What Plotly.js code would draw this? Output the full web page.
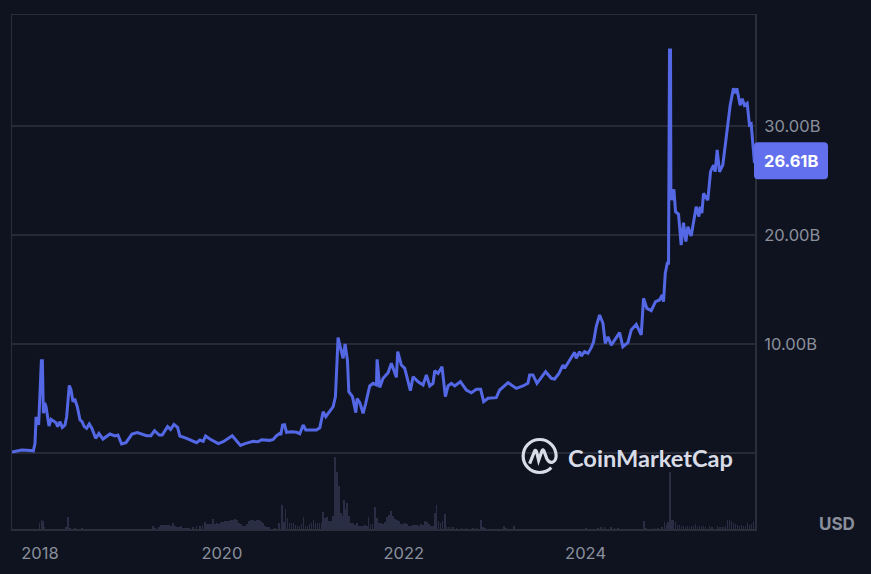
<!DOCTYPE html>
<html><head><meta charset="utf-8">
<script src="https://cdn.plot.ly/plotly-3.0.1.min.js"></script>
<style>html,body{margin:0;padding:0;background:#0e131f;overflow:hidden}#c{width:871px;height:574px}</style>
</head><body><div id="c"></div>
<script>
const capYears = [
2017.692,2017.744,2017.799,2017.854,2017.927,2017.945,2017.956,2017.971,2017.985,2018.015,2018.026,2018.037,2018.051,2018.066,2018.081,2018.099,2018.121,2018.147,2018.176,2018.194,2018.220,2018.245,2018.275,2018.293,2018.322,2018.341,2018.363,2018.381,2018.410,2018.440,2018.462,2018.487,2018.513,2018.542,2018.571,2018.612,2018.648,2018.692,2018.769,2018.824,2018.857,2018.897,2018.945,2019.011,2019.070,2019.172,2019.220,2019.260,2019.311,2019.344,2019.403,2019.436,2019.473,2019.513,2019.538,2019.612,2019.667,2019.722,2019.758,2019.795,2019.821,2019.868,2019.960,2020.015,2020.114,2020.205,2020.253,2020.308,2020.345,2020.399,2020.436,2020.527,2020.564,2020.601,
2020.637,2020.648,2020.667,2020.689,2020.711,2020.766,2020.821,2020.857,2020.894,2020.923,2020.985,2021.040,2021.077,2021.114,2021.143,2021.187,2021.224,2021.249,2021.278,2021.297,2021.333,2021.355,2021.381,2021.396,2021.436,2021.473,2021.487,2021.517,2021.553,2021.582,2021.626,2021.663,2021.700,2021.707,2021.736,2021.773,2021.828,2021.864,2021.919,2021.934,2021.974,2022.011,2022.037,2022.073,2022.103,2022.158,2022.213,2022.249,2022.286,2022.322,2022.341,2022.377,2022.421,2022.458,2022.487,2022.524,2022.561,2022.623,2022.689,2022.744,2022.799,2022.846,2022.879,2022.927,2023.018,2023.055,2023.147,2023.202,2023.238,2023.311,2023.366,2023.385,2023.421,2023.465,2023.513,2023.560,2023.623,2023.659,2023.707,2023.751,2023.769,2023.824,2023.879,2023.897,2023.934,
2023.953,2023.989,2024.026,2024.062,2024.088,2024.117,2024.154,2024.191,2024.216,2024.246,2024.282,2024.319,2024.374,2024.410,2024.465,2024.502,2024.557,2024.612,
2024.637,2024.674,2024.722,2024.769,2024.813,2024.843,2024.857,2024.876,2024.898,2024.912,2024.923,2024.934,2024.938,2024.949,2024.971,2024.989,2025.022,2025.051,2025.077,2025.103,2025.125,2025.161,2025.216,2025.246,2025.260,2025.279,2025.297,2025.344,2025.374,2025.407,2025.425,2025.447,2025.473,2025.509,2025.553,2025.590,2025.626,2025.648,2025.663,2025.700,2025.722,2025.747,2025.777,2025.802,2025.821,2025.857];
const capBillions = [
0.09,0.2,0.27,0.25,0.2,0.89,3.18,3.18,2.57,8.47,8.47,3.64,4.6,4.25,3.33,2.48,3.09,2.97,2.78,2.42,2.87,2.35,2.57,3.33,6.2,5.78,4.7,4.98,4.25,3.03,2.87,2.42,2.26,2.66,2.26,1.35,1.8,1.28,1.74,1.56,1.65,0.83,0.95,1.74,1.87,1.59,1.59,2.05,1.65,1.65,2.42,2.17,2.63,2.35,1.56,1.35,1.13,0.95,1.19,1.07,1.56,1.28,0.86,1.04,1.59,0.7,0.86,0.95,1.07,1.04,1.22,1.16,1.25,1.59,
1.8,1.65,2.57,2.6,1.9,1.96,1.9,1.77,2.57,2.11,2.11,2.11,2.32,3.79,3.33,3.79,4.25,5.17,10.6,9.9,8.68,10.0,8.5,5.63,5.17,3.7,5.0,4.62,3.64,4.56,6.15,6.39,6.24,8.6,6.02,6.85,7.37,8.23,6.94,9.3,8.07,7.77,6.85,5.72,7.0,6.54,6.24,7.16,6.15,6.39,7.55,7.3,7.92,5.17,6.15,6.39,6.15,6.54,5.78,5.53,5.84,5.84,4.71,5.02,5.08,5.78,6.45,6.15,5.93,6.15,6.39,7.16,7.16,6.39,6.94,7.46,6.85,6.79,7.3,8.07,7.77,8.53,9.24,8.68,9.3,
8.9,9.3,9.14,9.66,10.2,11.6,12.66,11.9,10.06,10.67,9.9,10.37,11.04,9.75,10.12,11.28,11.8,10.83,
14.19,13.27,13.06,13.88,14.04,14.5,13.88,16.48,17.4,17.4,36.97,36.97,23.82,23.2,24.19,22.14,21.9,19.08,21.13,19.39,20.76,19.9,22.6,21.68,22.6,22.0,23.82,23.2,25.8,26.42,25.8,27.8,25.8,26.42,29.3,31.9,33.45,33.0,33.45,31.9,32.5,31.9,32.08,30.1,30.2,26.61];

const volumeYears = [
2017.993,2018.015,2018.029,2018.048,2018.286,2018.304,2018.330,2018.385,2018.458,2019.245,2019.264,2019.311,2019.333,2019.355,2019.377,2019.399,2019.421,2019.443,2019.465,2019.487,2019.509,2019.531,2019.553,2019.575,2019.597,2019.619,2019.641,2019.685,2019.722,2019.758,2019.788,2019.817,2019.839,2019.861,2019.883,2019.905,2019.927,2019.949,2019.971,2019.993,2020.015,2020.037,2020.059,2020.081,2020.103,2020.125,2020.147,2020.169,2020.191,2020.213,2020.235,2020.257,2020.279,2020.301,2020.323,2020.345,2020.366,2020.388,2020.410,2020.432,2020.454,2020.476,2020.498,2020.520,2020.582,2020.630,
2020.663,2020.681,2020.700,2020.722,2020.744,2020.766,2020.788,2020.810,2020.832,2020.854,2020.876,2020.898,2020.919,2020.941,2020.963,2020.985,2021.007,2021.029,2021.051,2021.073,2021.095,2021.110,2021.132,2021.154,2021.176,2021.198,2021.220,2021.242,2021.264,2021.286,2021.308,2021.322,2021.341,2021.355,2021.377,2021.399,2021.421,2021.443,2021.465,2021.487,2021.509,2021.531,2021.553,2021.575,2021.597,2021.612,2021.634,2021.656,2021.681,2021.703,2021.725,2021.747,2021.769,2021.791,2021.813,2021.835,2021.857,2021.879,2021.901,2021.923,2021.945,2021.967,2021.989,2022.011,2022.033,2022.055,2022.077,2022.099,2022.121,2022.143,2022.165,2022.187,2022.209,2022.231,2022.253,2022.275,2022.297,2022.319,2022.341,2022.359,2022.381,2022.403,2022.425,2022.451,2022.469,2022.491,2022.513,2022.542,2022.579,2022.634,2022.689,2022.762,2022.799,2022.853,2022.872,2022.890,2023.099,2023.128,2023.213,
2024.007,2024.136,2024.172,2024.209,2024.282,2024.319,2024.355,2024.641,2024.667,2024.758,2024.795,2024.839,2024.868,2024.890,2024.909,2024.931,2024.949,2024.967,2024.989,2025.011,2025.033,2025.055,2025.077,2025.099,2025.121,2025.143,2025.165,2025.187,2025.209,2025.231,2025.253,2025.275,2025.297,2025.319,2025.363,2025.392,2025.451,2025.480,2025.509,2025.539,2025.561,2025.583,2025.605,2025.627,2025.649,2025.671,2025.693,2025.715,2025.737,2025.759,2025.781,2025.803,2025.825,2025.847];
const volumeUnits = [
6,9,8,2,2,12,1,1,1,3,1,2,4,4,4,4,4,3,6,3,2,2,3,1,1,1,1,2,3,3,4,7,5,5,5,10,5,6,5,7,7,8,8,8,9,9,10,9,6,5,3,3,5,8,9,9,8,9,9,8,6,3,2,2,1,6,
24,7,20,11,6,6,6,4,3,3,5,12,3,3,5,6,9,6,6,6,6,17,11,12,8,8,13,72,57,43,16,13,29,20,26,13,6,6,4,6,3,3,3,4,3,12,5,5,22,11,6,6,5,7,12,14,18,13,10,9,8,5,5,6,5,3,3,4,4,4,3,5,4,8,7,5,3,3,16,24,8,6,8,15,2,2,2,2,1,1,1,1,1,9,2,1,3,1,3,
1,1,2,2,2,1,1,8,1,1,1,2,7,4,7,57,9,9,7,4,4,3,3,2,3,2,3,3,5,2,3,3,3,2,3,2,3,2,2,3,9,9,8,6,5,4,3,4,3,3,6,4,5,7];

const capTickValues = [0,10,20,30];
const capTickLabels = ['','10.00B','20.00B','30.00B'];
const yearTickValues = [2018,2020,2022,2024];
const yearTickLabels = ['2018','2020','2022','2024'];
const latestLabel = '26.61B';

const traces = [
 {type:'bar',x:volumeYears,y:volumeUnits,yaxis:'y',xaxis:'x',width:0.019,
  marker:{color:'#2a2e44',line:{width:0}},hoverinfo:'skip',showlegend:false},
 {type:'scatter',mode:'lines',x:capYears,y:capBillions,yaxis:'y2',xaxis:'x',
  line:{color:'#5468e6',width:3,shape:'linear'},hoverinfo:'skip',showlegend:false}
];
const border='#2a2e3a';
const logoColor='#d9dce6';
const logoAnchor={xanchor:(540-12)/743.5,yanchor:(529-456)/514,xref:'paper',yref:'paper',xsizemode:'pixel',ysizemode:'pixel'};
const layout={
 width:871,height:574,paper_bgcolor:'#0e131f',plot_bgcolor:'#0e131f',
 margin:{l:12,r:116,t:15,b:45,pad:0},showlegend:false,bargap:0,
 font:{family:'Inter, sans-serif',color:'#8b8f9c',size:16},
 xaxis:{type:'linear',range:[2017.692,2025.863],tickmode:'array',tickvals:yearTickValues,ticktext:yearTickLabels,
   showgrid:false,zeroline:false,showline:true,linecolor:border,linewidth:1.5,mirror:true,
   ticks:'outside',ticklen:9,tickcolor:'rgba(0,0,0,0)',tickfont:{family:'Inter',size:16.5,color:'#8b8f9c'}},
 yaxis:{range:[0,514],showgrid:false,zeroline:false,showticklabels:false,ticks:'',showline:true,linecolor:border,linewidth:1.5,mirror:true},
 yaxis2:{overlaying:'y',side:'right',range:[-6.97,40.18],tickmode:'array',tickvals:capTickValues,ticktext:capTickLabels,
   showgrid:true,gridcolor:'#262a36',gridwidth:1.2,zeroline:false,showline:false,
   ticks:'outside',ticklen:5,tickcolor:'rgba(0,0,0,0)',tickfont:{family:'Inter',size:16.5,color:'#8b8f9c'}},
 shapes:[
  {type:'path',xref:'paper',yref:'paper',xsizemode:'pixel',ysizemode:'pixel',xanchor:1,yanchor:(529-160.7)/514,layer:'above',
   fillcolor:'#6270ee',line:{width:0},
   path:'M -1 -14.5 L -1 14.5 Q -1 18.5 3 18.5 L 69 18.5 Q 73 18.5 73 14.5 L 73 -14.5 Q 73 -18.5 69 -18.5 L 3 -18.5 Q -1 -18.5 -1 -14.5 Z'},
  Object.assign({type:'path',layer:'above',line:{color:logoColor,width:3.2},
   path:'M 11.67 -11.67 C 5.23 -18.11 -5.23 -18.11 -11.67 -11.67 C -18.11 -5.23 -18.11 5.23 -11.67 11.67 C -5.23 18.11 5.23 18.11 11.67 11.67 C 14.77 8.57 16.5 4.38 16.5 0'},logoAnchor),
  Object.assign({type:'path',layer:'above',line:{color:logoColor,width:3.2},
   path:'M -10 -7.7 L -5 5 Q -4 6.5 -3 4 L -1 -4.3 L 2.5 5.5 Q 3.3 7 4.3 5 L 7.3 -3 Q 9.5 -7 12.8 -6.2 Q 16.2 -5 16.5 0'},logoAnchor)
 ],
 annotations:[
  {xref:'paper',yref:'paper',x:(791.5-12)/743.5,y:(529-161)/514,xanchor:'center',yanchor:'middle',showarrow:false,
   text:latestLabel,font:{family:'Inter',size:16.5,color:'#ffffff',weight:700}},
  {xref:'paper',yref:'paper',x:(837.5-12)/743.5,y:(529-523.5)/514,xanchor:'center',yanchor:'middle',showarrow:false,
   text:'USD',font:{family:'Inter',size:17,color:'#8b8f9c',weight:700}},
  {xref:'paper',yref:'paper',x:(650.5-12)/743.5,y:(529-457.5)/514,xanchor:'center',yanchor:'middle',showarrow:false,
   text:'CoinMarketCap',font:{family:'Lato',size:23.6,color:logoColor,weight:700}}
 ]
};
Plotly.newPlot('c',traces,layout,{displayModeBar:false,staticPlot:true});
</script></body></html>
